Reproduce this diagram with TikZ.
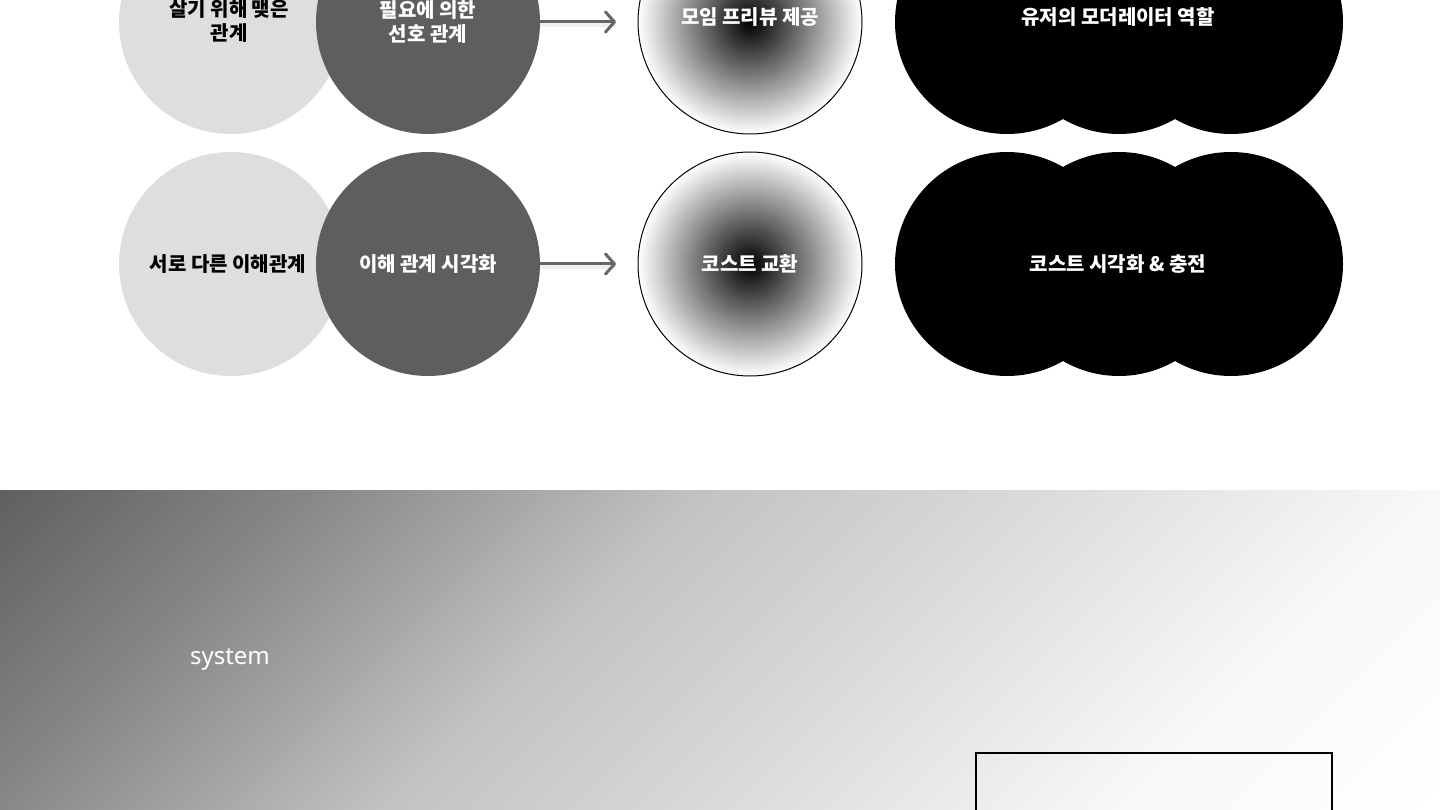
\documentclass[tikz,border=0pt]{standalone}
\usepackage{fontspec}
\setmainfont{Noto Sans}
\newfontfamily\kr{Noto Sans CJK KR}
\usetikzlibrary{arrows.meta}
\definecolor{lightc}{HTML}{DEDEDE}
\definecolor{darkc}{HTML}{5E5E5E}
\definecolor{arrc}{HTML}{666666}
\definecolor{gA}{HTML}{606060}
\definecolor{gB}{HTML}{888888}
\definecolor{gC}{HTML}{C2C2C2}
\definecolor{gD}{HTML}{F8F8F8}
\pgfdeclarehorizontalshading{bgshade}{100bp}{color(0bp)=(gA); color(28.4bp)=(gA); color(36.2bp)=(gB); color(45.6bp)=(gC); color(63.8bp)=(gD); color(71.6bp)=(white); color(100bp)=(white)}
\begin{document}
\begin{tikzpicture}[x=1pt,y=-1pt,
  ball/.style={circle, minimum size=224pt, inner sep=0pt, outer sep=0pt},
  lbl/.style={font=\kr\bfseries\fontsize{20}{24}\selectfont, align=center, inner sep=0pt},
  arr/.style={draw=arrc, line width=3pt, shorten >=22pt, -{Straight Barb[length=9pt,width=20pt,round]}},
  arrshadow/.style={draw=black!6, line width=7pt, shorten >=22pt, transform canvas={yshift=-2pt}}]
\useasboundingbox (0,0) rectangle (1440,810);
\fill[white] (0,0) rectangle (1440,810);
% bottom gradient band
\begin{scope}
  \clip (0,490) rectangle (1440,810);
  \shade[shading=bgshade, shading angle=-45] (0,-70) rectangle (1440,1370);
\end{scope}
\node[text=white, font=\fontsize{24}{28}\selectfont, inner sep=0pt] (sys) at (230,659) {system};
\node[draw=black, line width=2pt, minimum width=356pt, minimum height=140pt, anchor=north west, inner sep=0pt] (box) at (975,752) {};
% row 1
\node[ball, fill=lightc] (a1) at (231,22) {};
\node[ball, fill=darkc] (b1) at (428,22) {};
\node[ball, draw=black, line width=1pt, inner color=black, outer color=white] (g1) at (750,22) {};
\node[ball, fill=black] (c1a) at (1007,22) {};
\node[ball, fill=black] (c1b) at (1119,22) {};
\node[ball, fill=black] (c1c) at (1231,22) {};
\path[arrshadow] (b1) -- (g1);
\path[arr] (b1) -- (g1);
\node[lbl, text=black] (ta1) at (229,21) {살기 위해 맺은\\관계};
\node[lbl, text=white] (tb1) at (428,22) {필요에 의한\\선호 관계};
\node[lbl, text=white] (tg1) at (750,17) {모임 프리뷰 제공};
\node[lbl, text=white] (tc1) at (1118,17) {유저의 모더레이터 역할};
% row 2
\node[ball, fill=lightc] (a2) at (231,264) {};
\node[ball, fill=darkc] (b2) at (428,264) {};
\node[ball, draw=black, line width=1pt, inner color=black, outer color=white] (g2) at (750,264) {};
\node[ball, fill=black] (c2a) at (1007,264) {};
\node[ball, fill=black] (c2b) at (1119,264) {};
\node[ball, fill=black] (c2c) at (1231,264) {};
\path[arrshadow] (b2) -- (g2);
\path[arr] (b2) -- (g2);
\node[lbl, text=black] (ta2) at (228,264) {서로 다른 이해관계};
\node[lbl, text=white] (tb2) at (428,264) {이해 관계 시각화};
\node[lbl, text=white] (tg2) at (750,264) {코스트 교환};
\node[lbl, text=white] (tc2) at (1118,264) {코스트 시각화 \& 충전};
\end{tikzpicture}
\end{document}
